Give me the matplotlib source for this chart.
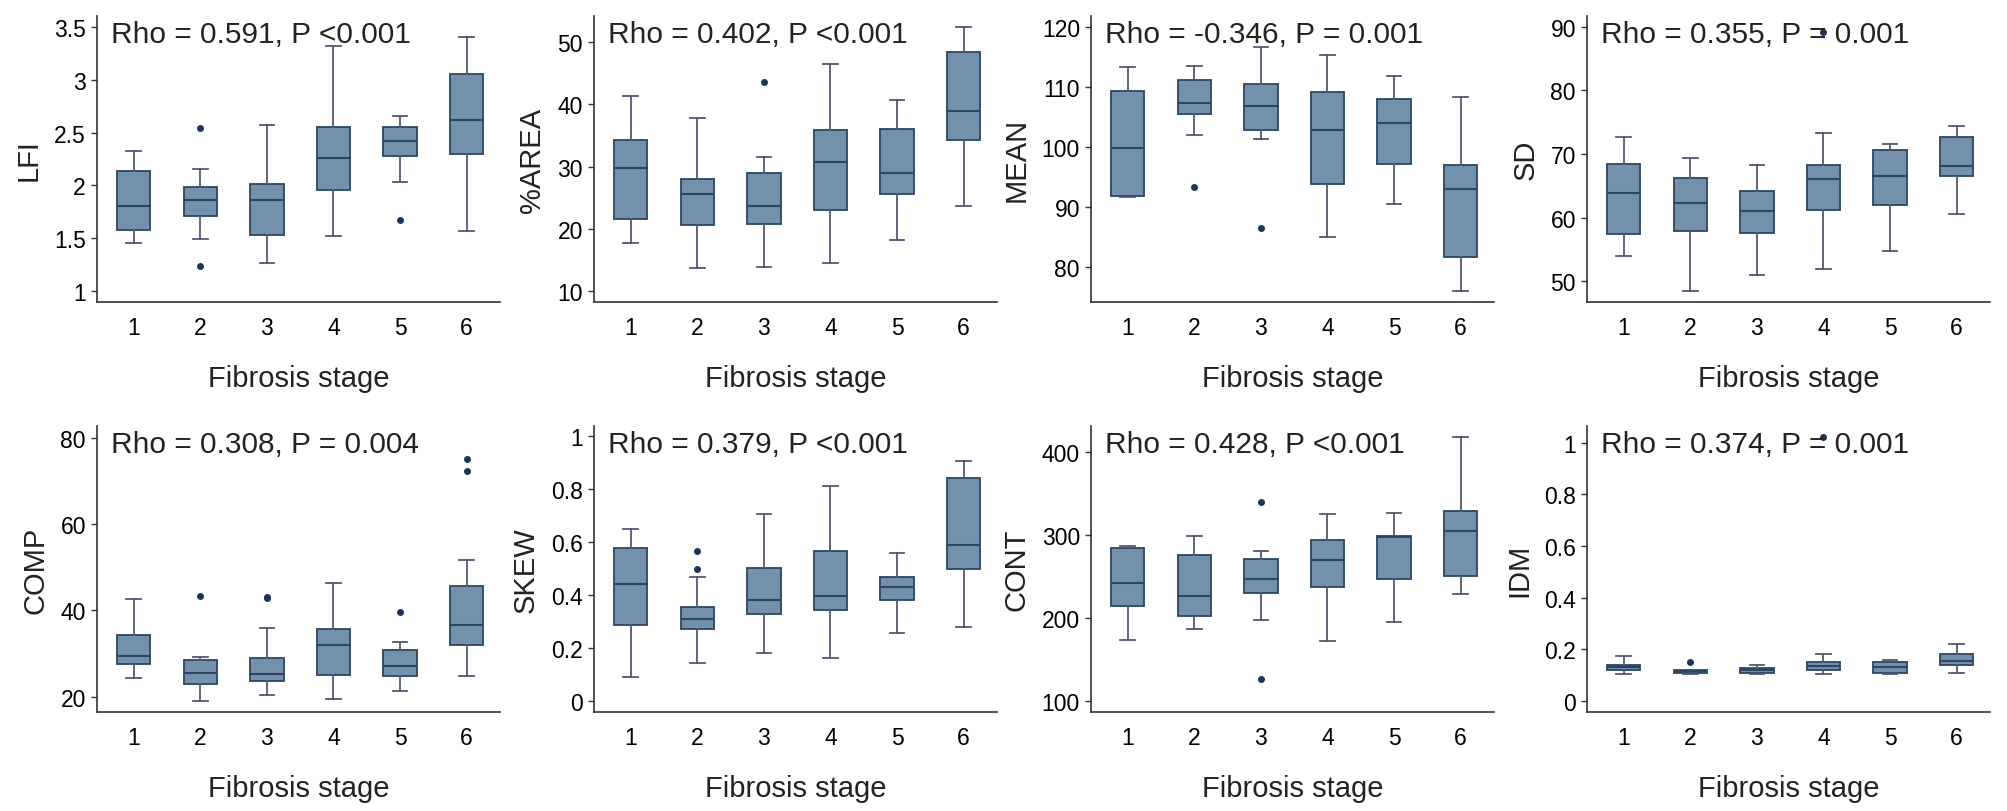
import matplotlib
matplotlib.use("Agg")
import matplotlib.pyplot as plt
from matplotlib.ticker import FormatStrFormatter, FixedLocator

plt.rcParams['font.family'] = ['Liberation Sans', 'DejaVu Sans']

stages = [1, 2, 3, 4, 5, 6]

# per stage: whisker low, Q1, median, Q3, whisker high
lfi_stats = [(1.454, 1.583, 1.81, 2.138, 2.33), (1.498, 1.709, 1.867, 1.984, 2.154),
             (1.271, 1.530, 1.867, 2.012, 2.570), (1.520, 1.955, 2.258, 2.551, 3.317),
             (2.037, 2.274, 2.419, 2.551, 2.655), (1.574, 2.293, 2.620, 3.052, 3.399)]
lfi_fliers = [[], [2.542, 1.243], [], [], [1.678], []]

area_stats = [(17.70, 21.60, 29.73, 34.28, 41.44), (13.74, 20.59, 25.56, 28.02, 37.91),
              (13.90, 20.75, 23.74, 29.04, 31.60), (14.60, 23.05, 30.75, 35.88, 46.47),
              (18.18, 25.61, 28.93, 36.04, 40.64), (23.74, 34.33, 38.88, 48.50, 52.46)]
area_fliers = [[], [], [43.64], [], [], []]

mean_stats = [(91.60, 91.87, 99.75, 109.40, 113.23), (102.02, 105.41, 107.35, 111.23, 113.56),
              (101.25, 102.75, 106.74, 110.40, 116.67), (84.94, 93.87, 102.86, 109.07, 115.34),
              (90.43, 97.14, 103.91, 107.96, 111.79), (76.06, 81.72, 92.93, 96.92, 108.35)]
mean_fliers = [[], [93.31], [86.55], [], [], []]

sd_stats = [(54.04, 57.44, 63.89, 68.51, 72.75), (48.43, 57.86, 62.32, 66.25, 69.34),
            (50.94, 57.55, 61.06, 64.26, 68.35), (51.94, 61.22, 66.09, 68.35, 73.38),
            (54.77, 62.00, 66.51, 70.71, 71.55), (60.64, 66.51, 68.19, 72.70, 74.48)]
sd_fliers = [[], [], [], [89.16], [], []]

comp_stats = [(24.40, 27.71, 29.41, 34.27, 42.75), (19.00, 22.93, 25.48, 28.56, 29.18),
              (20.46, 23.78, 25.25, 29.10, 35.96), (19.46, 25.01, 32.11, 35.73, 46.30),
              (21.31, 24.86, 27.10, 30.80, 32.65), (24.86, 32.03, 36.74, 45.60, 51.62)]
comp_fliers = [[], [43.29], [43.14, 43.0], [], [39.67], [74.99, 72.37]]

skew_stats = [(0.092, 0.288, 0.441, 0.577, 0.648), (0.145, 0.273, 0.309, 0.356, 0.470),
              (0.181, 0.330, 0.380, 0.501, 0.706), (0.162, 0.342, 0.396, 0.565, 0.810),
              (0.258, 0.380, 0.430, 0.470, 0.557), (0.278, 0.498, 0.589, 0.840, 0.907)]
skew_fliers = [[], [0.567, 0.498], [], [], [], []]

cont_stats = [(173.7, 213.8, 241.8, 283.5, 286.7), (186.5, 202.2, 225.8, 275.1, 298.7),
              (196.9, 229.4, 246.2, 270.6, 280.3), (172.5, 236.6, 269.4, 293.1, 324.3),
              (194.9, 246.2, 297.5, 298.7, 325.5), (228.2, 250.2, 303.9, 328.3, 417.2)]
cont_fliers = [[], [], [339.1, 125.7], [], [], []]

idm_stats = [(0.103, 0.120, 0.132, 0.141, 0.173), (0.103, 0.110, 0.115, 0.120, 0.119),
             (0.103, 0.110, 0.119, 0.128, 0.141), (0.103, 0.120, 0.134, 0.151, 0.183),
             (0.103, 0.110, 0.132, 0.151, 0.159), (0.110, 0.141, 0.154, 0.182, 0.221)]
idm_fliers = [[], [0.150], [], [1.022], [], []]

labels = ['LFI', '%AREA', 'MEAN', 'SD', 'COMP', 'SKEW', 'CONT', 'IDM']
annots = ['Rho = 0.591, P <0.001', 'Rho = 0.402, P <0.001', 'Rho = -0.346, P = 0.001',
          'Rho = 0.355, P = 0.001', 'Rho = 0.308, P = 0.004', 'Rho = 0.379, P <0.001',
          'Rho = 0.428, P <0.001', 'Rho = 0.374, P = 0.001']
all_stats = [lfi_stats, area_stats, mean_stats, sd_stats, comp_stats, skew_stats, cont_stats, idm_stats]
all_fliers = [lfi_fliers, area_fliers, mean_fliers, sd_fliers, comp_fliers, skew_fliers, cont_fliers, idm_fliers]
yticks = [[1, 1.5, 2, 2.5, 3, 3.5], [10, 20, 30, 40, 50], [80, 90, 100, 110, 120], [50, 60, 70, 80, 90],
          [20, 40, 60, 80], [0, 0.2, 0.4, 0.6, 0.8, 1], [100, 200, 300, 400], [0, 0.2, 0.4, 0.6, 0.8, 1]]
ylims = [(0.9, 3.6), (8.3, 54.2), (74.2, 121.8), (46.75, 91.7),
         (16.5, 82.7), (-0.041, 1.038), (86.4, 430.8), (-0.043, 1.065)]

fill = '#7491ac'
edge = '#2c4562'
whisk = '#535875'

fig = plt.figure(figsize=(20.08, 8.12), dpi=100)
lefts = [97, 594, 1091, 1587]
tops = [17, 427]
for i in range(8):
    r, c = divmod(i, 4)
    x0 = lefts[c] / 2008
    y0 = 1 - (tops[r] + 286) / 812
    ax = fig.add_axes([x0, y0, 403 / 2008, 286 / 812])
    bstats = []
    for s, (lo, q1, med, q3, hi) in enumerate(all_stats[i]):
        bstats.append(dict(whislo=lo, q1=q1, med=med, q3=q3, whishi=hi, fliers=all_fliers[i][s]))
    ax.bxp(bstats, positions=stages, widths=0.5, capwidths=0.22, patch_artist=True,
           boxprops=dict(facecolor=fill, edgecolor=edge, linewidth=1.3),
           medianprops=dict(color=edge, linewidth=1.5),
           whiskerprops=dict(color=whisk, linewidth=1.3),
           capprops=dict(color=whisk, linewidth=1.3),
           flierprops=dict(marker='o', markersize=4, markerfacecolor='#1d3557',
                           markeredgecolor='#1d3557'))
    ax.set_xlim(0.45, 6.5)
    ax.set_ylim(*ylims[i])
    ax.yaxis.set_major_locator(FixedLocator(yticks[i]))
    ax.yaxis.set_major_formatter(FormatStrFormatter('%g'))
    ax.set_xticks(stages)
    ax.set_xticklabels([str(s) for s in stages])
    for sp in ['top', 'right']:
        ax.spines[sp].set_visible(False)
    for sp in ['left', 'bottom']:
        ax.spines[sp].set_linewidth(1.2)
        ax.spines[sp].set_color('#333333')
    ax.tick_params(axis='both', labelsize=16.5, length=4, width=1.0, color='#333333', pad=4)
    ax.tick_params(axis='x', length=0, pad=10)
    ax.set_xlabel('Fibrosis stage', fontsize=21, labelpad=18, color='#222222')
    ax.set_ylabel(labels[i], fontsize=21, labelpad=8, color='#222222')
    ax.text(0.035, 0.985, annots[i], transform=ax.transAxes, fontsize=21.5, va='top', ha='left',
            color='#222222')

fig.savefig('out.png', dpi=100)
